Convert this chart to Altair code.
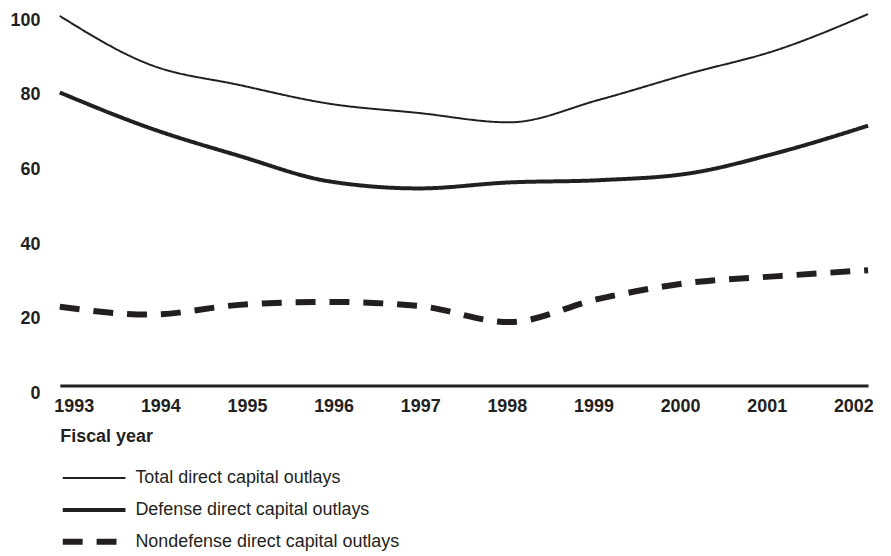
import altair as alt
import pandas as pd

years = [1993, 1994, 1995, 1996, 1997, 1998, 1999, 2000, 2001, 2002]
total = [99, 86, 80.5, 75.5, 73, 70.5, 76.5, 83.5, 90, 99.5]
defense = [78.5, 69, 61.5, 54.7, 52.8, 54.4, 55, 56.8, 62.4, 69.6]
nondefense = [21.1, 19, 21.6, 22.4, 21.3, 17, 23.2, 27.5, 29.3, 30.9]
series = ["Total direct capital outlays", "Defense direct capital outlays",
          "Nondefense direct capital outlays"]
y_ticks = [0, 20, 40, 60, 80, 100]

rows = []
for name, vals in zip(series, [total, defense, nondefense]):
    for yr, v in zip(years, vals):
        rows.append({"year": yr, "value": v, "series": name})
df = pd.DataFrame(rows)

INK = "#231f20"
FONT = "Liberation Sans"

chart = alt.Chart(df).mark_line(interpolate="monotone").encode(
    x=alt.X("year:Q",
            scale=alt.Scale(domain=[1993, 2002], nice=False, zero=False),
            axis=alt.Axis(values=years, format="d", ticks=False, grid=False,
                          domainWidth=3, domainColor=INK,
                          labelFont=FONT, labelFontSize=18, labelFontWeight="bold",
                          labelColor=INK, labelPadding=12, labelFlush=False,
                          labelOverlap=False,
                          labelOffset={"expr": "14 - 3.2*(datum.value - 1993)"},
                          title="Fiscal year", titleFont=FONT, titleFontSize=18,
                          titleFontWeight="bold", titleColor=INK,
                          titleX=0, titleY=51, titleAlign="left",
                          titleBaseline="middle", titleAnchor="start")),
    y=alt.Y("value:Q",
            scale=alt.Scale(domain=[0, 100], nice=False),
            axis=alt.Axis(values=y_ticks, ticks=False, grid=False, domain=False,
                          labelFont=FONT, labelFontSize=18, labelFontWeight="bold",
                          labelColor=INK, labelPadding=20, labelOffset=8,
                          title=None)),
    color=alt.Color("series:N", sort=series,
                    scale=alt.Scale(domain=series, range=[INK, INK, INK]),
                    legend=alt.Legend(title=None, orient="none", legendX=0, legendY=458,
                                      symbolType="stroke", symbolSize=3969,
                                      labelFont=FONT, labelFontSize=18,
                                      labelColor=INK, labelOffset=7, labelLimit=0,
                                      clipHeight=20, rowPadding=12,
                                      symbolStrokeColor=INK)),
    strokeDash=alt.StrokeDash("series:N", sort=series,
                              scale=alt.Scale(domain=series,
                                              range=[[1, 0], [1, 0], [20, 14]]),
                              legend=alt.Legend(title=None)),
    strokeWidth=alt.StrokeWidth("series:N", sort=series,
                                scale=alt.Scale(domain=series, range=[2, 6, 3]),
                                legend=alt.Legend(title=None)),
).properties(
    width=812, height=375,
    autosize=alt.AutoSizeParams(type="none"),
    padding={"left": 52, "top": 3, "right": 15, "bottom": 165},
).configure_view(stroke=None)

chart.save("out.html", embed_options={"renderer": "svg", "actions": False})
